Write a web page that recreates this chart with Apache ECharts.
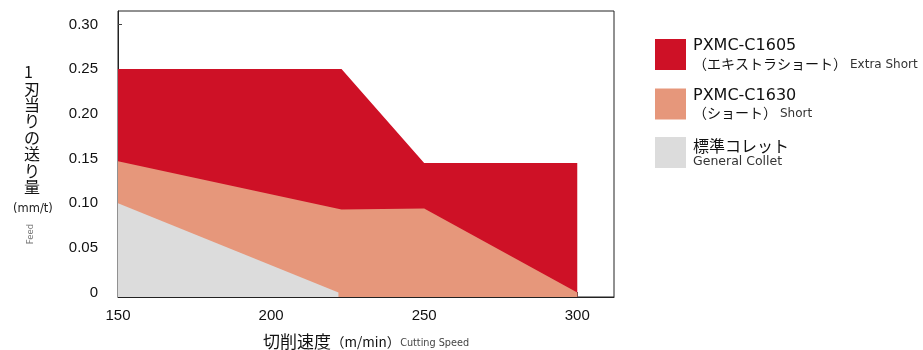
<!DOCTYPE html>
<html>
<head>
<meta charset="utf-8">
<script src="https://cdn.jsdelivr.net/npm/echarts@6/dist/echarts.min.js"></script>
<style>html,body{margin:0;padding:0;background:#fff}#c{width:923px;height:350px}</style>
</head>
<body>
<div id="c"></div>
<script>
// ---- data ----
const seriesNames = ['PXMC-C1605', 'PXMC-C1630', '標準コレット'];
const seriesSubJa = ['（エキストラショート）', '（ショート）', ''];
const seriesSubEn = ['Extra Short', 'Short', 'General Collet'];
// [cutting speed (m/min), feed (mm/t)]
const extraShort = [[150, 0.25], [223, 0.25], [250, 0.145], [300, 0.145], [300, 0]];
const shortCollet = [[150, 0.147], [223, 0.093], [250, 0.094], [300, 0]];
const generalCollet = [[150, 0.10], [222, 0]];
const xTicks = [150, 200, 250, 300];
const yTicks = [0, 0.05, 0.10, 0.15, 0.20, 0.25, 0.30];

const colors = ['#CE1126', '#E6977B', '#DCDCDC'];
const datasets = [extraShort, shortCollet, generalCollet];

const chart = echarts.init(document.getElementById('c'), null, {renderer: 'canvas'});
const jp = '"Noto Sans CJK JP", "Noto Sans", sans-serif';
const latin = '"Liberation Sans", Arial, sans-serif';
const wide = '"DejaVu Sans", sans-serif';

const legendFormatter = function (name) {
  const i = seriesNames.indexOf(name);
  if (i === 2) return '{t3|' + name + '}\n{en2|' + seriesSubEn[i] + '}';
  return '{t|' + name + '}\n{ja|' + seriesSubJa[i] + '}{en|' + seriesSubEn[i] + '}';
};

chart.setOption({
  animation: false,
  backgroundColor: '#fff',
  grid: {left: 118, top: 11, right: 309, bottom: 53, show: true, borderColor: '#222', borderWidth: 1,
         containLabel: false, outerBoundsMode: 'none'},
  xAxis: {
    type: 'value', min: 150, max: 312,
    axisLine: {onZero: false, lineStyle: {color: '#222', width: 1}},
    axisTick: {inside: true, length: 5, lineStyle: {color: '#444'}, customValues: xTicks},
    axisLabel: {customValues: xTicks, fontFamily: latin, fontSize: 15, color: '#111', margin: 11},
    splitLine: {show: false},
    name: '{a|切削速度}{b|（m/min）}{c|Cutting Speed}',
    nameLocation: 'middle', nameGap: 36,
    nameTextStyle: {
      rich: {
        a: {fontFamily: jp, fontSize: 17, color: '#111'},
        b: {fontFamily: jp, fontSize: 13.5, color: '#111'},
        c: {fontFamily: wide, fontSize: 9.7, color: '#444', padding: [3, 0, 0, 0]}
      }
    }
  },
  yAxis: {
    type: 'value', min: -0.005, max: 0.315,
    axisLine: {onZero: false, lineStyle: {color: '#222', width: 1}},
    axisTick: {inside: true, length: 4, lineStyle: {color: '#444'}, customValues: yTicks},
    axisLabel: {
      customValues: yTicks, fontFamily: latin, fontSize: 15, color: '#111', margin: 20,
      formatter: v => (Math.abs(v) < 1e-9 ? '0' : v.toFixed(2))
    },
    splitLine: {show: false}
  },
  legend: {
    orient: 'vertical', left: 655, top: 38, padding: 0,
    itemWidth: 31, itemHeight: 31, itemGap: 17,
    icon: 'rect',
    data: seriesNames,
    formatter: legendFormatter,
    textStyle: {
      padding: [0, 0, 0, 2],
      rich: {
        t: {fontFamily: wide, fontSize: 16, lineHeight: 18, color: '#111'},
        ja: {fontFamily: jp, fontSize: 14, lineHeight: 17, color: '#111'},
        en: {fontFamily: wide, fontSize: 12, lineHeight: 17, color: '#333', padding: [2, 0, 0, 3]},
        t3: {fontFamily: jp, fontSize: 16, lineHeight: 18, color: '#111'},
        en2: {fontFamily: wide, fontSize: 12.5, lineHeight: 14, color: '#333'}
      }
    }
  },
  graphic: [
    {type: 'text', left: 24, top: 64, style: {
      text: '1\n刃\n当\nり\nの\n送\nり\n量', font: '16px ' + jp, lineHeight: 16.4,
      fill: '#111', align: 'center'}},
    {type: 'text', left: 13, top: 203, style: {text: '(mm/t)', font: '11.5px ' + wide, fill: '#222'}},
    {type: 'text', x: 31, y: 234, rotation: Math.PI / 2, style: {
      text: 'Feed', font: '8.5px ' + wide, fill: '#777', align: 'center', verticalAlign: 'middle'}}
  ],
  series: datasets.map((d, i) => ({
    name: seriesNames[i],
    type: 'line',
    data: d,
    symbol: 'none',
    lineStyle: {width: 0, color: colors[i]},
    itemStyle: {color: colors[i]},
    areaStyle: {color: colors[i], opacity: 1, origin: 'start'},
    z: 2 + i
  }))
});
</script>
</body>
</html>
